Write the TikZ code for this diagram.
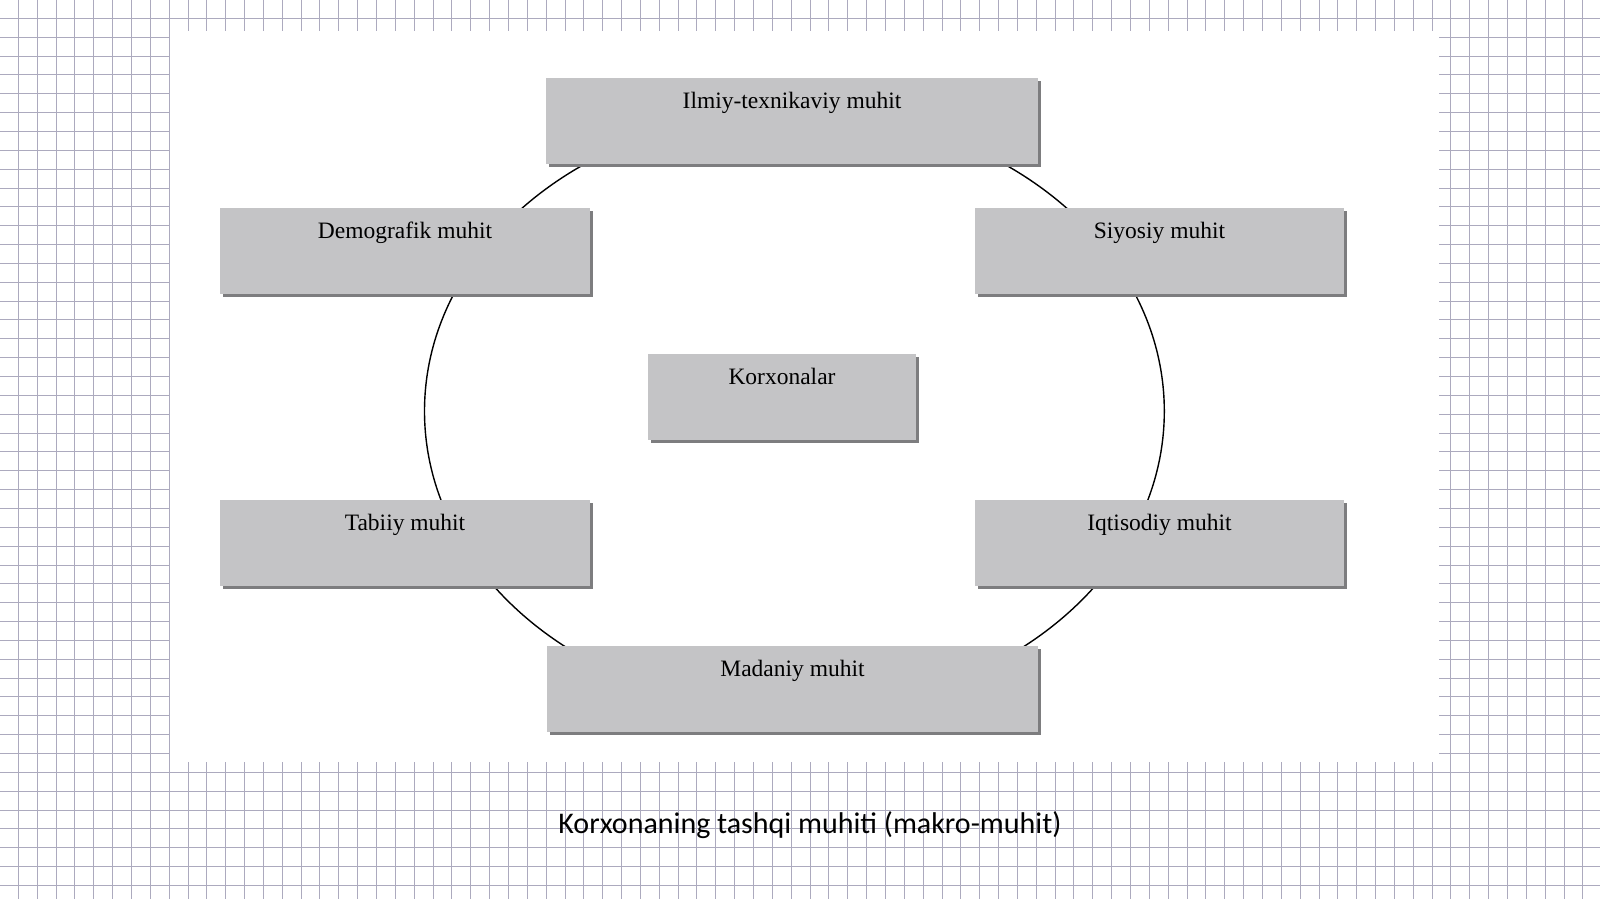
\documentclass[tikz,border=0pt]{standalone}
\usepackage{fontspec}
\setmainfont{Liberation Serif}
\newfontfamily\capfont{Carlito}
\usetikzlibrary{shadows}
\definecolor{boxgray}{RGB}{196,196,198}
\definecolor{shadowgray}{RGB}{125,125,127}
\definecolor{gridcol}{RGB}{172,170,190}
\begin{document}
\begin{tikzpicture}[x=1pt,y=-1pt,
  gridline/.style={draw=gridcol, line width=0.9pt},
  envbox/.style={anchor=north, inner sep=0pt, fill=boxgray, text height=30pt, text depth=56pt,
    font=\fontsize{23.5}{27}\selectfont,
    drop shadow={shadow xshift=2.5pt, shadow yshift=-2.5pt, fill=shadowgray, opacity=1}},
  ring/.style={draw=black, line width=1.4pt}]
\useasboundingbox (0,0) rectangle (1600,899);
\fill[white] (0,0) rectangle (1600,899);
\foreach \i in {0,...,84} \draw[gridline] ({18.3+\i*18.85},0) -- ({18.3+\i*18.85},899);
\foreach \j in {0,...,47} \draw[gridline] (0,{18.3+\j*18.85}) -- (1600,{18.3+\j*18.85});
\fill[white] (170,31) rectangle (1439,762);
\draw[ring] (794.4,411.2) ellipse [x radius=369.9, y radius=300];
\node[envbox, minimum width=492pt] (ilmiy) at (792,78) {Ilmiy-texnikaviy muhit};
\node[envbox, minimum width=370pt] (demo) at (405,208) {Demografik muhit};
\node[envbox, minimum width=369pt] (siyo) at (1159.5,208) {Siyosiy muhit};
\node[envbox, minimum width=268pt] (kor) at (782,354) {Korxonalar};
\node[envbox, minimum width=370pt] (tabi) at (405,500) {Tabiiy muhit};
\node[envbox, minimum width=369pt] (iqti) at (1159.5,500) {Iqtisodiy muhit};
\node[envbox, minimum width=491pt] (mada) at (792.5,646) {Madaniy muhit};
\node[anchor=base, inner sep=0pt, font=\capfont\fontsize{30}{35}\selectfont] (cap) at (810,833) {Korxonaning tashqi muhiti (makro-muhit)};
\end{tikzpicture}
\end{document}
